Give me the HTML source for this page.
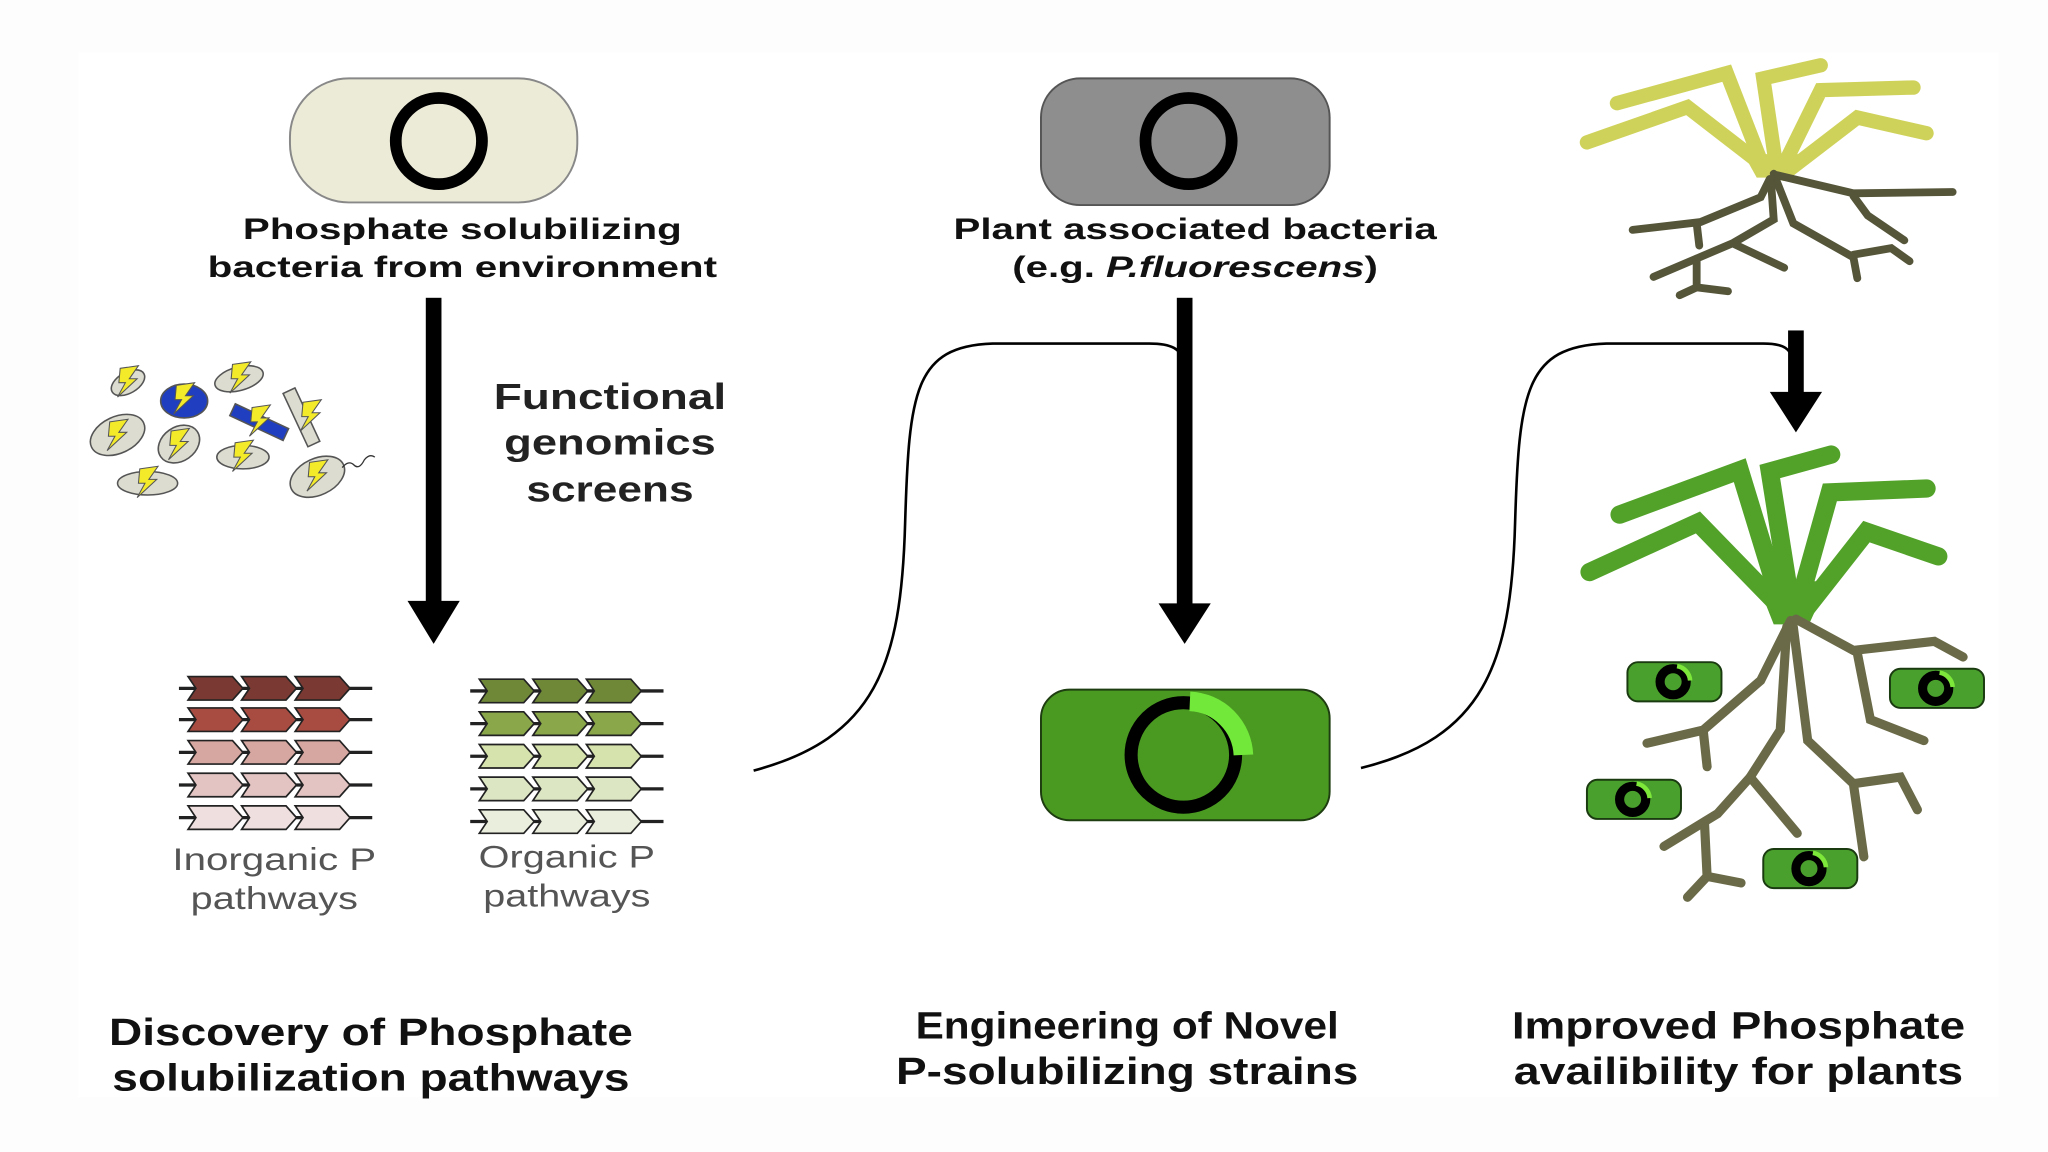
<!DOCTYPE html>
<html><head><meta charset="utf-8"><style>
html,body{margin:0;padding:0;background:#fdfdfd;}
svg{display:block;}
text{font-family:"Liberation Sans",Arial,sans-serif;}
</style></head><body>
<svg width="2048" height="1152" viewBox="0 0 1568 882" preserveAspectRatio="none" xmlns="http://www.w3.org/2000/svg">
<rect x="0" y="0" width="1568" height="882" fill="#fdfdfd"/>
<rect x="60" y="40" width="1470" height="800" fill="#ffffff"/>
<defs>
<g id="gene"><path d="M0,0 L34,0 L42,9 L34,18 L0,18 L6,9 Z"/></g>
<g id="bolt"><path d="M-6,-10 L8,-12 L1,-2 L7,-2 L-8,12 L-2,1 L-7,1 Z" fill="#f3ea2a" stroke="#555" stroke-width="0.8"/></g>
<g id="smallbac">
<rect x="0" y="0" width="72" height="30" rx="8" fill="#4aa02c" stroke="#1a3a10" stroke-width="1.5"/>
<circle cx="35" cy="15" r="10" fill="#4aa02c" stroke="#000" stroke-width="7"/>
<path d="M38,3 A12,12 0 0 1 48,14" fill="none" stroke="#7de83a" stroke-width="3.5"/>
</g>
</defs>

<!-- Pill 1 -->
<rect x="222" y="60" width="220" height="95" rx="45" fill="#ecebd8" stroke="#888" stroke-width="1.5"/>
<circle cx="336" cy="108" r="33" fill="none" stroke="#000" stroke-width="9"/>
<text x="354" y="183" font-size="23" font-weight="bold" text-anchor="middle" fill="#111" textLength="336" lengthAdjust="spacingAndGlyphs">Phosphate solubilizing</text>
<text x="354" y="212" font-size="23" font-weight="bold" text-anchor="middle" fill="#111" textLength="390" lengthAdjust="spacingAndGlyphs">bacteria from environment</text>

<!-- Pill 2 -->
<rect x="797" y="60" width="221" height="97" rx="30" fill="#8e8e8e" stroke="#555" stroke-width="1.5"/>
<circle cx="910" cy="108" r="33" fill="none" stroke="#000" stroke-width="9"/>
<text x="915" y="183" font-size="23" font-weight="bold" text-anchor="middle" fill="#111" textLength="370" lengthAdjust="spacingAndGlyphs">Plant associated bacteria</text>
<text x="915" y="212" font-size="23" font-weight="bold" text-anchor="middle" fill="#111" textLength="280" lengthAdjust="spacingAndGlyphs">(e.g. <tspan font-style="italic">P.fluorescens</tspan>)</text>

<!-- Arrows -->
<rect x="326" y="228" width="12" height="235" fill="#000"/>
<path d="M312,460 L352,460 L332,493 Z" fill="#000"/>
<rect x="901" y="228" width="12" height="237" fill="#000"/>
<path d="M887,462 L927,462 L907,493 Z" fill="#000"/>
<rect x="1369" y="253" width="12" height="50" fill="#000"/>
<path d="M1355,300 L1395,300 L1375,331 Z" fill="#000"/>

<text x="467" y="313" font-size="28" font-weight="bold" text-anchor="middle" fill="#222" textLength="178" lengthAdjust="spacingAndGlyphs">Functional</text>
<text x="467" y="348" font-size="28" font-weight="bold" text-anchor="middle" fill="#222" textLength="162" lengthAdjust="spacingAndGlyphs">genomics</text>
<text x="467" y="384" font-size="28" font-weight="bold" text-anchor="middle" fill="#222" textLength="128" lengthAdjust="spacingAndGlyphs">screens</text>

<!-- Curves -->
<path d="M577,590 C670,565 690,510 693,400 C696,300 700,265 760,263 L880,263 C898,263 904,268 905,275" fill="none" stroke="#000" stroke-width="2"/>
<path d="M1042,588 C1135,565 1157,510 1160,400 C1163,300 1168,265 1230,263 L1350,263 C1367,263 1371,268 1372,275" fill="none" stroke="#000" stroke-width="2"/>

<!-- Bacteria cluster -->
<g stroke="#555" stroke-width="1.2">
<ellipse cx="98" cy="293" rx="14" ry="8" transform="rotate(-30 98 293)" fill="#dcdcd0"/>
<ellipse cx="141" cy="307" rx="18" ry="13" fill="#1f3fc0"/>
<ellipse cx="183" cy="290" rx="19" ry="9" transform="rotate(-15 183 290)" fill="#dcdcd0"/>
<ellipse cx="90" cy="333" rx="22" ry="14" transform="rotate(-25 90 333)" fill="#dcdcd0"/>
<ellipse cx="137" cy="340" rx="17" ry="13" transform="rotate(-35 137 340)" fill="#dcdcd0"/>
<rect x="176" y="318" width="45" height="10" transform="rotate(25 198 323)" fill="#1f3fc0"/>
<rect x="226" y="297" width="10" height="45" transform="rotate(-25 231 320)" fill="#dcdcd0"/>
<ellipse cx="186" cy="350" rx="20" ry="9" fill="#dcdcd0"/>
<ellipse cx="113" cy="370" rx="23" ry="9" fill="#dcdcd0"/>
<ellipse cx="243" cy="365" rx="22" ry="14" transform="rotate(-25 243 365)" fill="#dcdcd0"/>
</g>
<path d="M262,358 q5,-6 9,-2 q4,4 8,-4 q4,-5 8,-2" fill="none" stroke="#333" stroke-width="1"/>
<use href="#bolt" x="98" y="292"/><use href="#bolt" x="141" y="305"/><use href="#bolt" x="184" y="289"/>
<use href="#bolt" x="90" y="333"/><use href="#bolt" x="137" y="340"/><use href="#bolt" x="199" y="322"/>
<use href="#bolt" x="238" y="318"/><use href="#bolt" x="186" y="349"/><use href="#bolt" x="113" y="369"/><use href="#bolt" x="243" y="364"/>

<!-- Gene arrays -->
<g stroke="#222" stroke-width="1.3">
<g fill="#7a3a33"><line x1="137" y1="527" x2="285" y2="527" stroke-width="2.5"/><use href="#gene" x="144" y="518"/><use href="#gene" x="185" y="518"/><use href="#gene" x="226" y="518"/></g>
<g fill="#a84c42"><line x1="137" y1="551" x2="285" y2="551" stroke-width="2.5"/><use href="#gene" x="144" y="542"/><use href="#gene" x="185" y="542"/><use href="#gene" x="226" y="542"/></g>
<g fill="#d6a6a0"><line x1="137" y1="576" x2="285" y2="576" stroke-width="2.5"/><use href="#gene" x="144" y="567"/><use href="#gene" x="185" y="567"/><use href="#gene" x="226" y="567"/></g>
<g fill="#e3c4c2"><line x1="137" y1="601" x2="285" y2="601" stroke-width="2.5"/><use href="#gene" x="144" y="592"/><use href="#gene" x="185" y="592"/><use href="#gene" x="226" y="592"/></g>
<g fill="#efe0df"><line x1="137" y1="626" x2="285" y2="626" stroke-width="2.5"/><use href="#gene" x="144" y="617"/><use href="#gene" x="185" y="617"/><use href="#gene" x="226" y="617"/></g>
<g fill="#6f8838"><line x1="360" y1="529" x2="508" y2="529" stroke-width="2.5"/><use href="#gene" x="367" y="520"/><use href="#gene" x="408" y="520"/><use href="#gene" x="449" y="520"/></g>
<g fill="#8aa84a"><line x1="360" y1="554" x2="508" y2="554" stroke-width="2.5"/><use href="#gene" x="367" y="545"/><use href="#gene" x="408" y="545"/><use href="#gene" x="449" y="545"/></g>
<g fill="#d6e3ad"><line x1="360" y1="579" x2="508" y2="579" stroke-width="2.5"/><use href="#gene" x="367" y="570"/><use href="#gene" x="408" y="570"/><use href="#gene" x="449" y="570"/></g>
<g fill="#dce6c2"><line x1="360" y1="604" x2="508" y2="604" stroke-width="2.5"/><use href="#gene" x="367" y="595"/><use href="#gene" x="408" y="595"/><use href="#gene" x="449" y="595"/></g>
<g fill="#eaeedc"><line x1="360" y1="629" x2="508" y2="629" stroke-width="2.5"/><use href="#gene" x="367" y="620"/><use href="#gene" x="408" y="620"/><use href="#gene" x="449" y="620"/></g>
</g>
<text x="210" y="666" font-size="24" text-anchor="middle" fill="#555" textLength="156" lengthAdjust="spacingAndGlyphs">Inorganic P</text>
<text x="210" y="696" font-size="24" text-anchor="middle" fill="#555" textLength="128" lengthAdjust="spacingAndGlyphs">pathways</text>
<text x="434" y="664" font-size="24" text-anchor="middle" fill="#555" textLength="135" lengthAdjust="spacingAndGlyphs">Organic P</text>
<text x="434" y="694" font-size="24" text-anchor="middle" fill="#555" textLength="128" lengthAdjust="spacingAndGlyphs">pathways</text>

<!-- Engineered bacterium -->
<rect x="797" y="528" width="221" height="100" rx="22" fill="#4a9a22" stroke="#1e3d10" stroke-width="1.5"/>
<circle cx="906" cy="578" r="40" fill="none" stroke="#000" stroke-width="10"/>
<path d="M911,537 A43,43 0 0 1 952,578" fill="none" stroke="#72e83a" stroke-width="15"/>

<!-- Top plant -->
<g fill="none" stroke-linejoin="miter" stroke-linecap="round">
<g stroke="#cfd25a" stroke-width="11">
<polyline points="1358,133 1292,82 1215,109"/>
<polyline points="1350,128 1322,56 1238,79"/>
<polyline points="1360,128 1350,60 1394,50"/>
<polyline points="1364,130 1394,69 1465,67"/>
<polyline points="1366,133 1422,90 1475,102"/>
</g>
<path d="M1335,118 L1385,118 L1372,136 L1345,136 Z" fill="#cfd25a" stroke="none"/>
<g stroke="#55553a" stroke-width="6">
<polyline points="1358,133 1373,171 1419,197 1422,213"/>
<polyline points="1419,195 1448,190 1462,200"/>
<polyline points="1360,134 1419,148 1495,147"/>
<polyline points="1419,150 1430,165 1458,184"/>
<polyline points="1355,137 1348,151 1302,170 1250,176"/>
<polyline points="1299,171 1301,188"/>
<polyline points="1356,140 1358,168 1327,186 1266,212"/>
<polyline points="1328,187 1366,205"/>
<polyline points="1299,198 1299,220 1286,226"/>
<polyline points="1299,220 1323,223"/>
</g>
<!-- Bottom plant -->
<g stroke="#52a22a" stroke-width="14">
<polyline points="1370,472 1300,400 1217,438"/>
<polyline points="1365,468 1332,360 1240,394"/>
<polyline points="1372,468 1355,361 1402,348"/>
<polyline points="1375,470 1401,377 1475,374"/>
<polyline points="1378,472 1429,407 1484,426"/>
</g>
<path d="M1345,445 L1400,445 L1385,478 L1358,478 Z" fill="#52a22a" stroke="none"/>
<g stroke="#6a6a48" stroke-width="7">
<polyline points="1371,475 1366,485 1348,521 1304,559 1261,569"/>
<polyline points="1304,559 1307,587"/>
<polyline points="1368,480 1363,559 1340,595 1315,623 1274,648"/>
<polyline points="1340,595 1376,638"/>
<polyline points="1305,630 1307,671 1292,687"/>
<polyline points="1307,671 1333,676"/>
<polyline points="1373,480 1384,567 1419,600 1427,656"/>
<polyline points="1419,600 1455,595 1468,620"/>
<polyline points="1375,474 1419,498 1481,491 1503,503"/>
<polyline points="1422,500 1432,551 1473,567"/>
</g>
</g>
<use href="#smallbac" x="1246" y="507"/>
<use href="#smallbac" x="1447" y="512"/>
<use href="#smallbac" x="1215" y="597"/>
<use href="#smallbac" x="1350" y="650"/>

<!-- Bottom captions -->
<text x="284" y="800" font-size="29" font-weight="bold" text-anchor="middle" fill="#111" textLength="401" lengthAdjust="spacingAndGlyphs">Discovery of Phosphate</text>
<text x="284" y="835" font-size="29" font-weight="bold" text-anchor="middle" fill="#111" textLength="396" lengthAdjust="spacingAndGlyphs">solubilization pathways</text>
<text x="863" y="795" font-size="29" font-weight="bold" text-anchor="middle" fill="#111" textLength="324" lengthAdjust="spacingAndGlyphs">Engineering of Novel</text>
<text x="863" y="830" font-size="29" font-weight="bold" text-anchor="middle" fill="#111" textLength="354" lengthAdjust="spacingAndGlyphs">P-solubilizing strains</text>
<text x="1331" y="795" font-size="29" font-weight="bold" text-anchor="middle" fill="#111" textLength="347" lengthAdjust="spacingAndGlyphs">Improved Phosphate</text>
<text x="1331" y="830" font-size="29" font-weight="bold" text-anchor="middle" fill="#111" textLength="344" lengthAdjust="spacingAndGlyphs">availibility for plants</text>
</svg>
</body></html>
